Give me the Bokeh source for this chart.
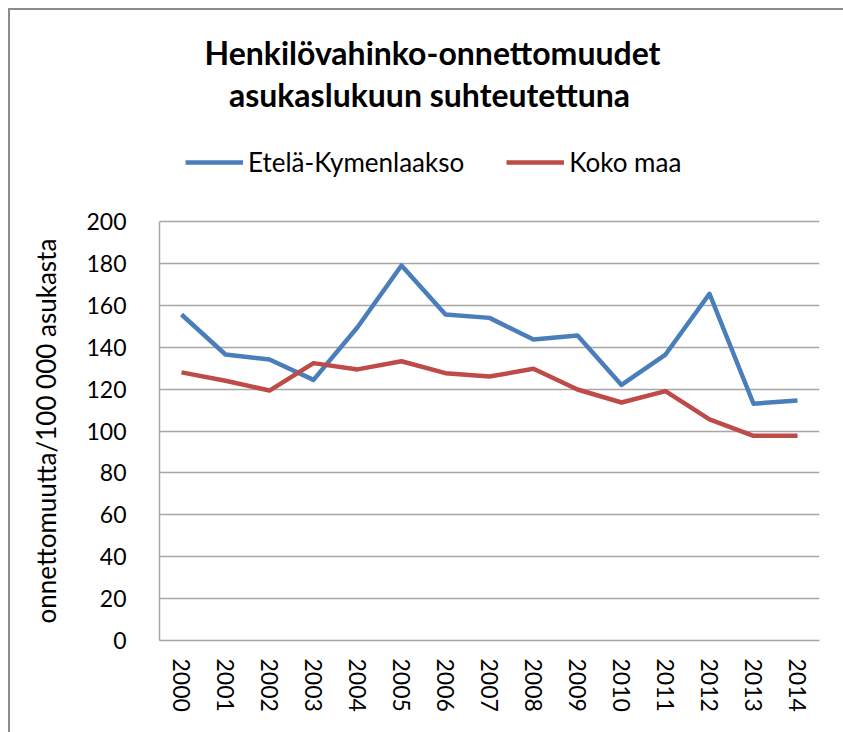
from bokeh.plotting import figure
from bokeh.models import Label, Legend, LegendItem, SingleIntervalTicker, FactorRange, Range1d
from bokeh.embed import file_html
from bokeh.resources import INLINE

years = ["2000", "2001", "2002", "2003", "2004", "2005", "2006", "2007",
         "2008", "2009", "2010", "2011", "2012", "2013", "2014"]
etela = [155.6, 136.5, 134.1, 124.4, 149.5, 179.0, 155.6, 154.0,
         143.7, 145.6, 122.0, 136.5, 165.5, 113.0, 114.6]
koko = [128.0, 124.0, 119.3, 132.4, 129.4, 133.3, 127.6, 126.0,
        129.7, 119.8, 113.6, 119.0, 105.5, 97.7, 97.7]
series_names = ["Etelä-Kymenlaakso", "Koko maa"]
title_lines = ["Henkilövahinko-onnettomuudet", "asukaslukuun suhteutettuna"]
y_label = "onnettomuutta/100 000 asukasta"
y_min, y_max, y_step = 0, 200, 20

FONT = "Lato"
BLUE = "#4A7EBB"
RED = "#BE4B48"
GRID = "#A6A6A6"

# layout (pixels)
W, H = 843, 732
LEFT, RIGHT, BOTTOM = 159, 24, 92
FRAME_TOP = 10          # frame reaches up to the chart border; room for title + legend
AXIS_TOP = 221          # pixel row of the 200 gridline
frame_h = H - FRAME_TOP - BOTTOM
axis_h = H - AXIS_TOP - BOTTOM
view_top = y_max * frame_h / axis_h

p = figure(width=W, height=H,
           x_range=FactorRange(factors=years, range_padding=0),
           y_range=Range1d(y_min, view_top),
           output_backend="svg", toolbar_location=None,
           min_border_left=LEFT, min_border_right=RIGHT,
           min_border_top=FRAME_TOP, min_border_bottom=BOTTOM)

r1 = p.line(years, etela, line_color=BLUE, line_width=4.5, line_join="round")
r2 = p.line(years, koko, line_color=RED, line_width=4.5, line_join="round")

p.outline_line_color = None
p.xgrid.grid_line_color = None
p.ygrid.grid_line_color = GRID
p.ygrid.grid_line_width = 1.5
p.ygrid.bounds = (y_min, y_max)

p.yaxis.ticker = SingleIntervalTicker(interval=y_step)
p.yaxis.bounds = (y_min, y_max)
for ax in (p.xaxis, p.yaxis):
    ax.axis_line_color = GRID
    ax.axis_line_width = 1.5
    ax.major_tick_line_color = None
    ax.minor_tick_line_color = None
    ax.major_tick_out = 0
    ax.major_tick_in = 0
    ax.major_label_text_font = FONT
    ax.major_label_text_font_size = "23px"
    ax.major_label_text_color = "#000000"

p.yaxis.major_label_standoff = 29
p.xaxis.major_label_standoff = 18
p.xaxis.major_label_orientation = "vertical"

# the axis label is centred on the whole frame; trailing figure spaces shift
# the visible words down so they sit beside the 0-200 part of the axis
p.yaxis.axis_label = y_label + "\u2007" * 14
p.yaxis.axis_label_text_font = FONT
p.yaxis.axis_label_text_font_size = "26px"
p.yaxis.axis_label_text_font_style = "normal"
p.yaxis.axis_label_text_color = "#000000"
p.yaxis.axis_label_standoff = 21

legend = Legend(items=[LegendItem(label=series_names[0], renderers=[r1]),
                       LegendItem(label=series_names[1], renderers=[r2])],
                orientation="horizontal", location=(26, 462),
                glyph_width=58, glyph_height=30, label_height=30,
                label_standoff=5, spacing=42,
                padding=0, margin=0, border_line_color=None,
                background_fill_alpha=0,
                label_text_font=FONT, label_text_font_size="26px",
                label_text_color="#000000")
p.add_layout(legend)

for txt, xx, yy in zip(title_lines, [273, 270], [588, 546]):
    p.add_layout(Label(x=xx, y=yy, x_units="screen", y_units="screen", text=txt,
                       text_align="center", text_baseline="alphabetic",
                       text_font=FONT, text_font_style="bold",
                       text_font_size="32px", text_color="#000000"))

p.border_fill_color = None
p.styles = {"box-shadow": "inset 8px 8px 0 0 #ffffff, inset 10px 10px 0 0 #8c8c8c"}

open("out.html", "w").write(file_html(p, INLINE))
